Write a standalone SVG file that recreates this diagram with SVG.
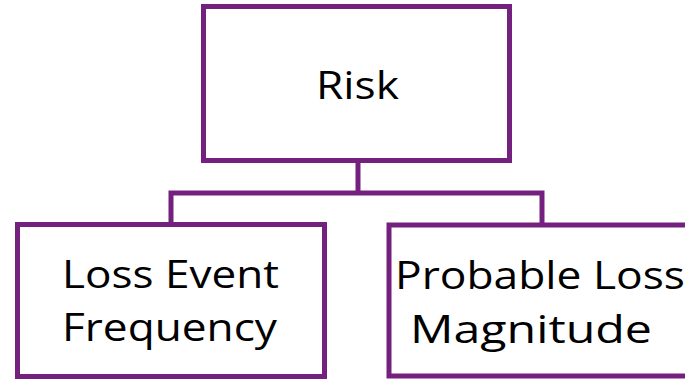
<svg xmlns="http://www.w3.org/2000/svg" width="685" height="379" viewBox="0 0 685 379">
  <style>
    .box { fill: #ffffff; stroke: #74207e; stroke-width: 5; }
    .link { fill: none; stroke: #74207e; stroke-width: 5; stroke-linecap: square; }
    .label { font-family: "Open Sans", "Noto Sans", sans-serif; font-size: 39px; fill: #000000; }
  </style>
  <rect width="685" height="379" fill="#ffffff"/>

  <g id="connectors">
    <path class="link" d="M358,163 V193 M171,193 H542 M171,193 V222 M542,193 V222"/>
  </g>

  <g id="risk">
    <rect class="box" x="203.5" y="6.5" width="306" height="154"/>
    <text class="label" x="316" y="99" textLength="83" lengthAdjust="spacingAndGlyphs">Risk</text>
  </g>

  <g id="loss-event-frequency">
    <rect class="box" x="17.5" y="224.5" width="307" height="152"/>
    <text class="label" x="62" y="288" textLength="217" lengthAdjust="spacingAndGlyphs">Loss Event</text>
    <text class="label" x="62" y="341" textLength="215" lengthAdjust="spacingAndGlyphs">Frequency</text>
  </g>

  <g id="probable-loss-magnitude">
    <rect class="box" x="389" y="225" width="320" height="151"/>
    <text class="label" x="395" y="289" textLength="290" lengthAdjust="spacingAndGlyphs">Probable Loss</text>
    <text class="label" x="410" y="343" textLength="242" lengthAdjust="spacingAndGlyphs">Magnitude</text>
  </g>
</svg>
